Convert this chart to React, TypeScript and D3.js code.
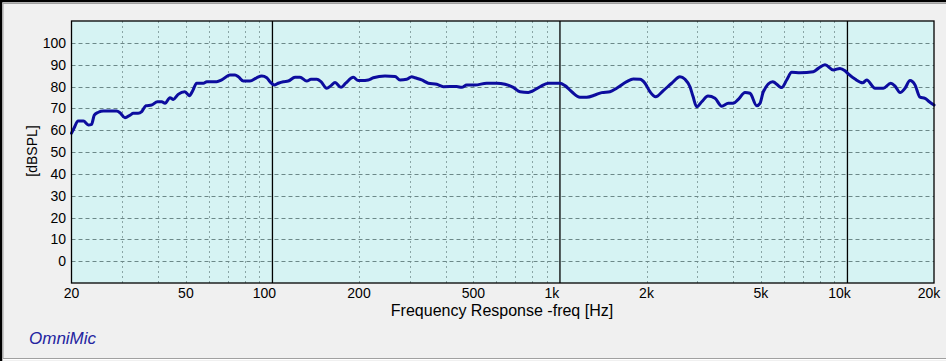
import React from "react";
import * as d3 from "d3";

const FREQS = [20,20.4,21.1,22,22.9,23.5,24,24.8,25.8,28.7,29.5,30.7,32,32.8,34.1,35.1,36.3,38,39.8,41.2,42.3,44,45.2,47,49.6,51.4,52.8,54.5,57.5,59.1,64,66.6,71.2,74.1,76.1,79.2,83.5,88.1,91.8,95.5,98,101.5,104.8,109.1,113.5,119.8,124.7,131.6,136.2,142.6,147.5,154.4,159.8,165.1,173.2,179.8,191.1,198.9,204.4,215.5,224.3,246.3,266.9,277.8,293.1,305.1,313.2,330.5,348.4,372.7,392.9,437.4,455.3,473.9,506.5,556.1,602.6,644,688.2,726.2,776.1,807.9,852.4,910.8,1000,1041,1099,1174,1239,1324,1397,1493,1575,1707,1799,1899,1976,2057,2153,2288,2447,2615,2722,2833,2902,2990,3112,3273,3462,3653,3851,4009,4172,4402,4582,4835,4964,5097,5497,5905,6147,6398,6839,7607,7918,8354,8929,9421,9805,10067,10623,11299,11667,12471,13329,14143,14638,15236,15857,16505,17179,17881,18611,19263,20000];

const SPL = [58.6,60.9,64.2,64.2,62.4,62.7,66.9,68.2,68.8,68.8,68.0,65.7,66.9,67.7,67.7,68.5,71.2,71.5,73.0,73.0,72.3,74.9,74.1,76.4,77.6,75.8,78.1,81.5,81.5,82.2,82.2,83.0,85.3,85.3,84.5,82.5,82.5,84.0,84.8,84.0,82.2,80.7,81.5,82.2,82.5,84.2,84.2,82.5,83.3,83.3,82.2,79.2,80.4,81.8,79.6,81.5,84.2,82.7,82.7,83.0,84.0,84.8,84.6,83.0,83.3,84.5,84.0,83.0,81.5,81.0,79.9,80.0,79.6,80.7,80.7,81.5,81.5,81.0,79.6,77.6,77.3,78.1,79.9,81.5,81.5,80.4,77.6,75.1,75.1,76.1,77.2,77.6,79.2,82.2,83.4,83.3,81.5,77.6,75.3,78.1,81.5,84.5,83.3,79.9,75.5,70.7,73.0,75.6,74.6,71.0,72.3,72.3,74.1,77.3,76.9,71.2,72.3,77.6,82.2,79.5,83.0,86.5,86.3,86.8,88.3,90.0,87.6,88.3,87.2,85.8,83.4,81.7,83.0,79.2,79.2,81.5,80.2,77.2,79.2,82.7,80.7,75.1,74.6,73.0,71.5];

const Y_TICKS = [0,10,20,30,40,50,60,70,80,90,100];
const X_TICKS = [20,50,100,200,500,1000,2000,5000,10000,20000];
const X_TICK_LABELS = ["20","50","100","200","500","1k","2k","5k","10k","20k"];
const MINOR_FREQS = [30,40,50,60,70,80,90,200,300,400,500,600,700,800,900,2000,3000,4000,5000,6000,7000,8000,9000];
const DECADE_FREQS = [100,1000,10000];

const X_TITLE = "Frequency Response -freq [Hz]";
const Y_TITLE = "[dBSPL]";
const BRAND = "OmniMic";

const W = 946, H = 361;
const L = 71.5, R = 934, T = 21, B = 283;

export default function App() {
  const x = d3.scaleLog().domain([20, 20000]).range([L, R]);
  const y = d3.scaleLinear().domain([-10, 110]).range([B, T]);
  const data = FREQS.map((f, i) => [f, SPL[i]] as [number, number]);
  const line = d3.line<[number, number]>()
    .x(d => x(d[0]))
    .y(d => y(d[1]))
    .curve(d3.curveMonotoneX);
  const font = "'Liberation Sans', Arial, sans-serif";
  const labelDx = (f: number, i: number) => {
    if (i === X_TICKS.length - 1) return -5;
    if (DECADE_FREQS.includes(f)) return -8;
    return 0;
  };
  return (
    <svg width={W} height={H} style={{ position: "fixed", left: 0, top: 0, display: "block" }}>
      <rect x={0} y={0} width={W} height={H} fill="#f0f0f0" />
      <line x1={0} x2={W} y1={1} y2={1} stroke="#000" strokeWidth={2.5} />
      <line x1={1} x2={1} y1={0} y2={H} stroke="#000" strokeWidth={2.5} />
      <line x1={3} x2={W} y1={3.5} y2={3.5} stroke="#a0a0a0" strokeWidth={1} />
      <line x1={3} x2={3} y1={3} y2={358} stroke="#a0a0a0" strokeWidth={1} />
      <line x1={3} x2={W} y1={358.5} y2={358.5} stroke="#a0a0a0" strokeWidth={1} />
      <line x1={3} x2={W} y1={359.5} y2={359.5} stroke="#ffffff" strokeWidth={1} />

      <rect x={L} y={T} width={R - L} height={B - T} fill="#d6f3f3" />

      {MINOR_FREQS.map(f => (
        <line key={"v" + f} x1={Math.round(x(f)) + 0.5} x2={Math.round(x(f)) + 0.5} y1={T} y2={B}
          stroke="#8aa5a5" strokeWidth={1} strokeDasharray="2,3" />
      ))}
      {Y_TICKS.map(v => (
        <line key={"h" + v} x1={L} x2={R} y1={Math.round(y(v)) + 0.5} y2={Math.round(y(v)) + 0.5}
          stroke="#6c8888" strokeWidth={1} strokeDasharray="4,3" />
      ))}
      {DECADE_FREQS.map(f => (
        <line key={"d" + f} x1={x(f)} x2={x(f)} y1={T} y2={B} stroke="#000" strokeWidth={1.3} />
      ))}

      <path d={line(data) || ""} fill="none" stroke="#0c0c9e" strokeWidth={3}
        strokeLinejoin="round" strokeLinecap="round" />

      <rect x={L} y={T} width={R - L} height={B - T} fill="none" stroke="#000" strokeWidth={1.3} />

      {Y_TICKS.map(v => (
        <text key={"yt" + v} x={66} y={y(v)} dy="0.36em" textAnchor="end"
          fontFamily={font} fontSize={14} fill="#000">{v}</text>
      ))}
      {X_TICKS.map((f, i) => (
        <text key={"xt" + f} x={x(f) + labelDx(f, i)} y={297.5} textAnchor="middle"
          fontFamily={font} fontSize={14} fill="#000">{X_TICK_LABELS[i]}</text>
      ))}
      <text x={502} y={316} textAnchor="middle" fontFamily={font} fontSize={16} fill="#000">{X_TITLE}</text>
      <text transform={`translate(37,151) rotate(-90)`} textAnchor="middle"
        fontFamily={font} fontSize={14} fill="#000">{Y_TITLE}</text>
      <text x={29} y={343.5} fontFamily={font} fontSize={17} fontStyle="italic" fill="#2424a0">{BRAND}</text>
    </svg>
  );
}
